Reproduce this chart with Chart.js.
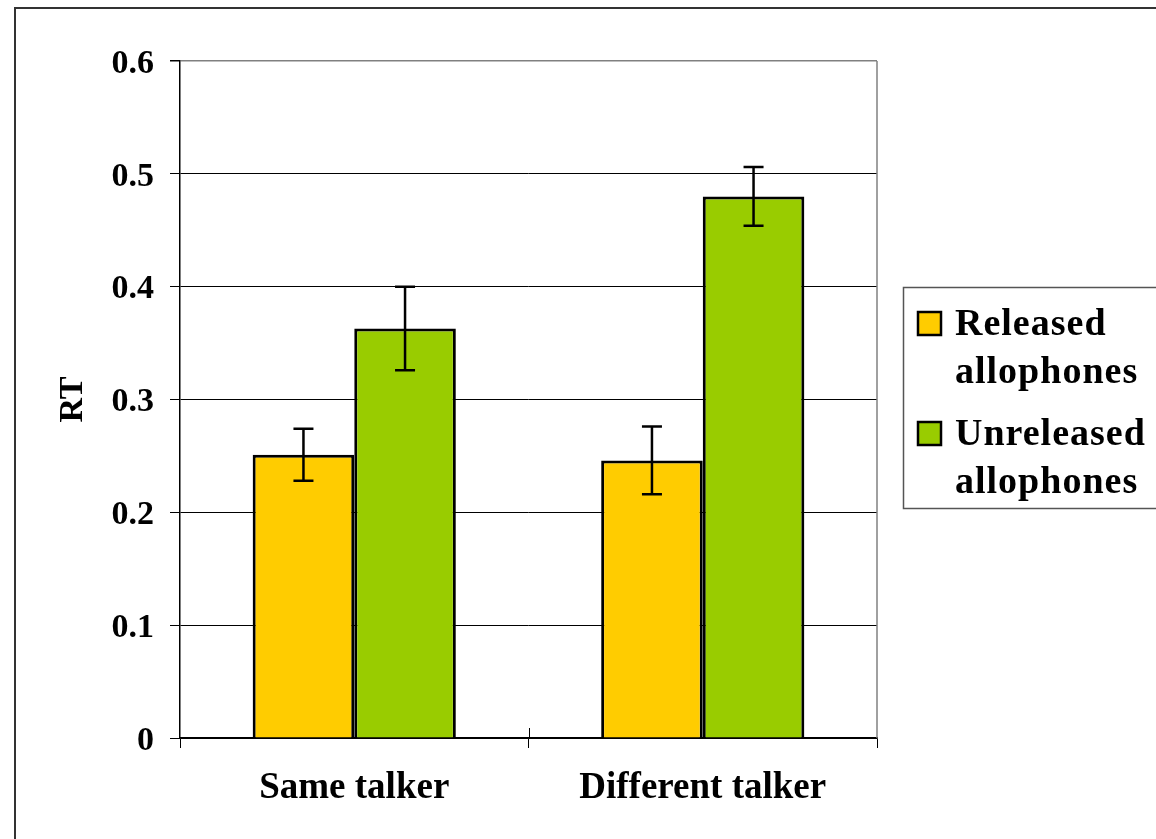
<!DOCTYPE html>
<html>
<head>
<meta charset="utf-8">
<script src="https://cdn.jsdelivr.net/npm/chart.js@4.4.1/dist/chart.umd.min.js"></script>
<style>
  html, body { margin: 0; padding: 0; background: #fff; }
  #wrap { position: relative; width: 1156px; height: 839px; }
  canvas { display: block; }
</style>
</head>
<body>
<div id="wrap"><canvas id="c" width="1156" height="839"></canvas></div>
<script>
const categories = ["Same talker", "Different talker"];
const seriesNames = ["Released allophones", "Unreleased allophones"];
const released = [0.251, 0.246];
const unreleased = [0.363, 0.480];
const releasedErr = [0.023, 0.030];
const unreleasedErr = [0.037, 0.026];
const yTickLabels = ["0", "0.1", "0.2", "0.3", "0.4", "0.5", "0.6"];
const axisTitle = "RT";

const SERIF = '"Liberation Serif", "Times New Roman", serif';

const errorBars = {
  id: 'errorBars',
  afterDatasetsDraw(chart) {
    const ctx = chart.ctx;
    const y = chart.scales.y;
    ctx.save();
    ctx.strokeStyle = '#000';
    ctx.lineWidth = 2.5;
    chart.data.datasets.forEach((ds, di) => {
      const meta = chart.getDatasetMeta(di);
      meta.data.forEach((bar, i) => {
        const v = ds.data[i], e = ds.err[i];
        const yt = y.getPixelForValue(v + e);
        const yb = y.getPixelForValue(v - e);
        const x = bar.x;
        ctx.beginPath();
        ctx.moveTo(x, yt); ctx.lineTo(x, yb);
        ctx.moveTo(x - 10, yt); ctx.lineTo(x + 10, yt);
        ctx.moveTo(x - 10, yb); ctx.lineTo(x + 10, yb);
        ctx.stroke();
      });
    });
    ctx.restore();
  }
};

const decorations = {
  id: 'decorations',
  afterDraw(chart) {
    const ctx = chart.ctx;
    const a = chart.chartArea;
    ctx.save();
    // right border of plot area
    ctx.strokeStyle = '#808080';
    ctx.lineWidth = 1.5;
    ctx.beginPath();
    ctx.moveTo(a.right, a.top); ctx.lineTo(a.right, a.bottom);
    ctx.stroke();
    // middle tick extends above axis
    const xs = chart.scales.x;
    const mid = (xs.getPixelForValue(0) + xs.getPixelForValue(1)) / 2;
    ctx.strokeStyle = '#000';
    ctx.lineWidth = 1;
    ctx.beginPath();
    ctx.moveTo(Math.round(mid) + 0.5, a.bottom - 10); ctx.lineTo(Math.round(mid) + 0.5, a.bottom);
    ctx.stroke();
    // outer frame
    ctx.strokeStyle = '#333';
    ctx.lineWidth = 2;
    ctx.beginPath();
    ctx.moveTo(15, 845); ctx.lineTo(15, 8); ctx.lineTo(1160, 8);
    ctx.stroke();
    // legend
    ctx.strokeStyle = '#555';
    ctx.lineWidth = 1.5;
    ctx.strokeRect(903.5, 287.5, 300, 221);
    const rows = [[335, 383], [445, 493]];
    ctx.font = 'bold 38px ' + SERIF;
    ctx.letterSpacing = '1px';
    ctx.fillStyle = '#000';
    ctx.textBaseline = 'alphabetic';
    ctx.textAlign = 'left';
    chart.data.datasets.forEach((ds, di) => {
      const words = ds.label.split(' ');
      const b = rows[di];
      ctx.fillStyle = ds.backgroundColor;
      ctx.fillRect(918, b[0] - 23, 23, 23);
      ctx.strokeStyle = '#000';
      ctx.lineWidth = 2.5;
      ctx.strokeRect(918, b[0] - 23, 23, 23);
      ctx.fillStyle = '#000';
      ctx.fillText(words[0], 955, b[0]);
      ctx.fillText(words.slice(1).join(' '), 955, b[1]);
    });
    ctx.restore();
  }
};

new Chart(document.getElementById('c'), {
  type: 'bar',
  data: {
    labels: categories,
    datasets: [
      { label: seriesNames[0], data: released, err: releasedErr,
        backgroundColor: '#FFCC00', borderColor: '#000', borderWidth: 3 },
      { label: seriesNames[1], data: unreleased, err: unreleasedErr,
        backgroundColor: '#99CC00', borderColor: '#000', borderWidth: 3 }
    ]
  },
  options: {
    responsive: false,
    animation: false,
    layout: { padding: { top: 61, right: 279, left: 0, bottom: 0 } },
    datasets: { bar: { categoryPercentage: 0.583, barPercentage: 1.0 } },
    plugins: { legend: { display: false }, tooltip: { enabled: false } },
    scales: {
      x: {
        afterFit(s) { s.height = 101; },
        grid: { offset: true, drawOnChartArea: false, drawTicks: true, tickLength: 10, color: '#000' },
        border: { color: '#000', width: 1.5 },
        ticks: { color: '#000', padding: 18, font: { family: SERIF, size: 37, weight: 'bold' } }
      },
      y: {
        min: 0, max: 0.6,
        afterFit(s) { s.width = 180; },
        grid: {
          color: (c) => (c.tick && c.tick.value >= 0.6 ? '#808080' : '#000'),
          lineWidth: (c) => (c.tick && c.tick.value >= 0.6 ? 1.5 : 1),
          tickColor: '#000', tickLength: 10
        },
        border: { color: '#000', width: 1.5 },
        ticks: {
          stepSize: 0.1, color: '#000', padding: 16, labelOffset: 3,
          font: { family: SERIF, size: 34, weight: 'bold' },
          callback: (v, i) => yTickLabels[i]
        },
        title: {
          display: true, text: axisTitle, color: '#000',
          font: { family: SERIF, size: 34, weight: 'bold' },
          padding: { top: 53, bottom: 0 }
        }
      }
    }
  },
  plugins: [errorBars, decorations]
});
</script>
</body>
</html>
